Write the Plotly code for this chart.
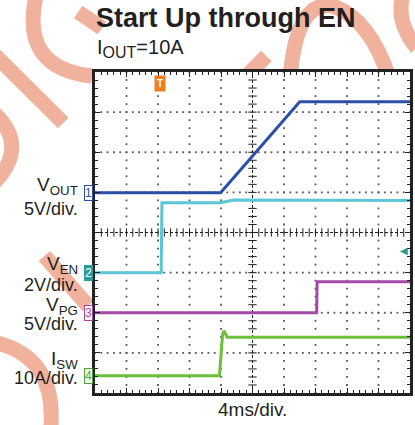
import plotly.graph_objects as go

# ---------------- data (time in ms, 4 ms/div; levels in screen divisions) -------------
vout_t = [0, 15.95, 26.0, 40]
vout_y = [0.99, 0.99, 3.26, 3.26]

ven_t = [0, 8.4, 8.5, 15.9, 17.6, 40]
ven_y = [-1.0, -1.0, 0.74, 0.74, 0.81, 0.80]

vpg_t = [0, 28.15, 28.2, 40]
vpg_y = [-2.0, -2.0, -1.23, -1.23]

isw_t = [0, 15.8, 16.2, 16.35, 16.8, 40]
isw_y = [-3.57, -3.57, -2.55, -2.45, -2.61, -2.61]

labels = ["V<sub>OUT</sub>", "V<sub>EN</sub>", "V<sub>PG</sub>", "I<sub>SW</sub>"]
scales = ["5V/div.", "2V/div.", "5V/div.", "10A/div."]
colors = ["#2b4fa8", "#5cc6d6", "#a24aa6", "#6cbf3a"]

W, H = 415, 425
# plot area in page pixels: x 95..413, y 72..393
L, R, T, B = 95, W - 413, 72, H - 393
PW, PH = W - L - R, H - T - B


def px(x):
    return (x - L) / PW


def py(y):
    return (H - B - y) / PH


fig = go.Figure()

# ---------------- graticule dots ----------------
gx, gy = [], []
for k in range(1, 10):
    if k == 5:
        continue
    for j in range(0, 41):
        gx.append(k * 4)
        gy.append(-4 + j * 0.2)
for k in range(-3, 4):
    if k == 0:
        continue
    for j in range(0, 51):
        gx.append(j * 0.8)
        gy.append(k)
fig.add_trace(go.Scatter(x=gx, y=gy, mode="markers", hoverinfo="skip",
                         marker=dict(symbol="square", size=1.8, color="#555", line=dict(width=0))))
# center cross ticks
cx = [j * 0.8 for j in range(1, 50)]
fig.add_trace(go.Scatter(x=cx, y=[0] * len(cx), mode="markers", hoverinfo="skip",
                         marker=dict(symbol="line-ns", size=6, line=dict(width=1, color="#222"))))
cy = [-4 + j * 0.2 for j in range(1, 40)]
fig.add_trace(go.Scatter(x=[20] * len(cy), y=cy, mode="markers", hoverinfo="skip",
                         marker=dict(symbol="line-ew", size=6, line=dict(width=1, color="#222"))))

# ---------------- traces ----------------
for t, v, c in [(ven_t, ven_y, colors[1]), (vpg_t, vpg_y, colors[2]),
                (isw_t, isw_y, colors[3]), (vout_t, vout_y, colors[0])]:
    fig.add_trace(go.Scatter(x=t, y=v, mode="lines", line=dict(color=c, width=3),
                             hoverinfo="skip"))

# ---------------- watermark (outside the screen) ----------------
wm = "#f0b29c"
paths_px = [
    [("M", 36, -6), ("Q", 18, 68, 92, 76)],
    [("M", -6, 55), ("L", 63, 123)],
    [("M", -8, 112), ("Q", 30, 146, -8, 184)],
    [("M", -8, 342), ("Q", 58, 356, 50, 432)],
    [("M", 44, 256), ("L", 88, 306)],
    [("M", 78, 12), ("L", 102, 28)],
    [("M", 248, 76), ("L", 268, 56)],
    [("M", 292, 78), ("Q", 298, 0, 335, 6), ("Q", 372, 18, 392, 78)],
    [("M", 406, -6), ("Q", 398, 22, 420, 48)],
]
shapes = []
for p in paths_px:
    s = ""
    for seg in p:
        cmd = seg[0]
        pts = seg[1:]
        coords = []
        for i in range(0, len(pts), 2):
            coords.append(f"{px(pts[i]):.4f},{py(pts[i+1]):.4f}")
        s += cmd + " " + " ".join(coords) + " "
    shapes.append(dict(type="path", path=s, xref="paper", yref="paper", layer="below",
                       line=dict(color=wm, width=15)))
shapes.append(dict(type="rect", xref="paper", yref="paper", x0=0, x1=1, y0=0, y1=1,
                   fillcolor="white", line=dict(width=0), layer="below"))
# center dashed lines
shapes.append(dict(type="line", xref="x", yref="y", x0=0, x1=40, y0=0, y1=0,
                   line=dict(color="#222", width=1, dash="3px,2px"), layer="below"))
shapes.append(dict(type="line", xref="x", yref="y", x0=20, x1=20, y0=-4, y1=4,
                   line=dict(color="#222", width=1, dash="3px,2px"), layer="below"))

# ---------------- annotations ----------------
FONT = "Liberation Sans, Arial, sans-serif"
TXT = "#231f20"
ann = []
ann.append(dict(text="<b>Start Up through EN</b>", xref="paper", yref="paper",
                x=px(94), y=py(18), xanchor="left", yanchor="middle", showarrow=False,
                font=dict(family=FONT, size=27, color=TXT)))
ann.append(dict(text='I<sub><span style="font-size:16px">OUT</span></sub>=10A',
                xref="paper", yref="paper",
                x=px(95), y=py(48), xanchor="left", yanchor="middle", showarrow=False,
                font=dict(family=FONT, size=20, color=TXT)))
ann.append(dict(text="4ms/div.", xref="paper", yref="paper",
                x=px(254), y=py(410), xanchor="center", yanchor="middle", showarrow=False,
                font=dict(family=FONT, size=19, color=TXT)))

label_y = [186, 265, 306, 360]
scale_y = [209, 285, 324, 378]
for lab, sc, ly, sy in zip(labels, scales, label_y, scale_y):
    ann.append(dict(text=lab, xref="paper", yref="paper", x=px(80), y=py(ly),
                    xanchor="right", yanchor="middle", showarrow=False,
                    font=dict(family=FONT, size=19, color=TXT)))
    ann.append(dict(text=sc, xref="paper", yref="paper", x=px(80), y=py(sy),
                    xanchor="right", yanchor="middle", showarrow=False,
                    font=dict(family=FONT, size=18, color=TXT)))

# channel markers
mk_levels = [vout_y[0], ven_y[0], vpg_y[0], isw_y[0]]
mk_style = [
    dict(font=dict(color=colors[0]), bgcolor="white", bordercolor=colors[0]),
    dict(font=dict(color="white"), bgcolor="#2a9a9c", bordercolor="#2a9a9c"),
    dict(font=dict(color=colors[2]), bgcolor="white", bordercolor=colors[2]),
    dict(font=dict(color="#4aa52a"), bgcolor="white", bordercolor="#4aa52a"),
]
for i, (lv, st) in enumerate(zip(mk_levels, mk_style)):
    a = dict(text=str(i + 1), xref="paper", yref="y", x=px(88), y=lv, xanchor="center",
             yanchor="middle", showarrow=False, borderwidth=1, borderpad=0)
    a.update(st)
    a["font"] = dict(family=FONT, size=12, color=st["font"]["color"])
    ann.append(a)

# trigger position marker
ann.append(dict(text="<b>T</b>", xref="x", yref="paper", x=8.3, y=py(83),
                xanchor="center", yanchor="middle", showarrow=False,
                bgcolor="#ef7d22", borderpad=2, font=dict(family=FONT, size=10, color="white")))
# trigger level marker
ann.append(dict(text="◀", xref="paper", yref="y", x=1.0, y=-0.44,
                xanchor="right", yanchor="middle", showarrow=False,
                font=dict(family="DejaVu Sans", size=10, color="#2a9a9c")))

axis_common = dict(showgrid=False, zeroline=False, showticklabels=False, showline=True,
                   linecolor="#222", linewidth=2.5, mirror="ticks", ticks="inside",
                   ticklen=5, tickcolor="#222", tickwidth=1)

fig.update_layout(
    width=W, height=H, margin=dict(l=L, r=R, t=T, b=B),
    paper_bgcolor="white", plot_bgcolor="white", showlegend=False,
    shapes=shapes, annotations=ann,
    xaxis=dict(range=[0, 40], dtick=4, tick0=0,
               minor=dict(dtick=0.8, ticks="inside", ticklen=3, tickcolor="#222", showgrid=False),
               **axis_common),
    yaxis=dict(range=[-4, 4], dtick=1, tick0=0,
               minor=dict(dtick=0.2, ticks="inside", ticklen=3, tickcolor="#222", showgrid=False),
               **axis_common),
)

fig.write_html("out.html", config={"displayModeBar": False},
               post_script="document.body.style.margin='0';")
